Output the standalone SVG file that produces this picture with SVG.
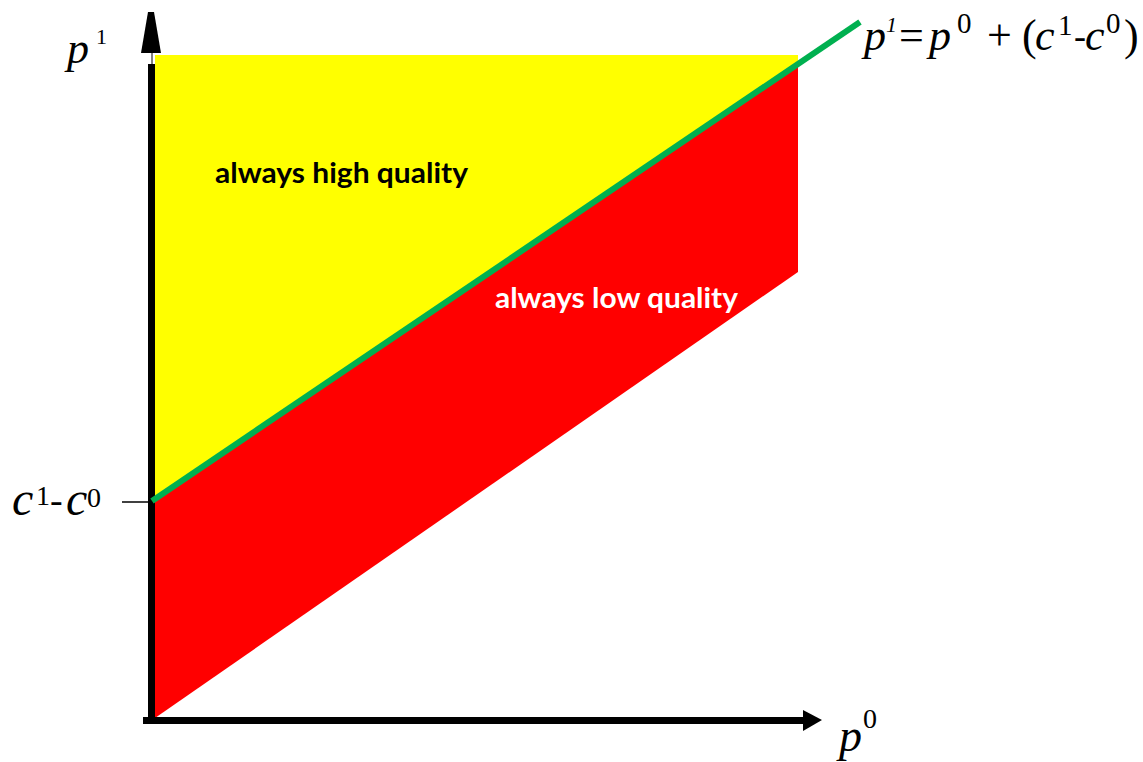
<svg xmlns="http://www.w3.org/2000/svg" width="1143" height="762" viewBox="0 0 1143 762">
<style>
.m{font-family:"Liberation Serif","Times New Roman",serif;fill:#000}
.i{font-style:italic}
.lbl{font-family:Lato,"Liberation Sans",sans-serif;font-weight:bold;font-size:28px}
</style>
<rect width="1143" height="762" fill="#fff"/>
<g id="regions">
<polygon id="high" points="155,55 798,55 798,64 155,500" fill="#ffff00"/>
<polygon id="low" points="155,500 798,64 798,272 155,718" fill="#ff0000"/>
</g>
<g id="connectors">
<line x1="152" y1="14" x2="152" y2="64" stroke="#000" stroke-width="1"/>
<line x1="151.5" y1="64" x2="151.5" y2="724" stroke="#000" stroke-width="7"/>
<polygon points="148,12 154,12 161,53 141,53" fill="#000"/>
<line x1="143" y1="720.5" x2="804" y2="720.5" stroke="#000" stroke-width="7"/>
<polygon points="822,720 803,710 803,731" fill="#000"/>
<line x1="122" y1="502" x2="150" y2="502" stroke="#000" stroke-width="1.5"/>
<line x1="152" y1="501" x2="860" y2="22" stroke="#00b050" stroke-width="6"/>
</g>
<g id="label-high"><text class="lbl" x="215" y="183" textLength="253" lengthAdjust="spacingAndGlyphs" fill="#000">always high quality</text></g>
<g id="label-low"><text class="lbl" x="495" y="308" textLength="243" lengthAdjust="spacingAndGlyphs" fill="#fff">always low quality</text></g>
<g id="axis-p1">
<text class="m i" x="67" y="63" font-size="44">p</text>
<text class="m" x="96" y="44" font-size="22">1</text>
</g>
<g id="axis-p0">
<text class="m i" x="839" y="751" font-size="46">p</text>
<text class="m" x="863" y="728" font-size="28">0</text>
</g>
<g id="intercept">
<text class="m i" x="12" y="515" font-size="48">c</text>
<text class="m" x="36" y="505" font-size="28">1</text>
<text class="m" x="50" y="513" font-size="38">-</text>
<text class="m i" x="66" y="515" font-size="48">c</text>
<text class="m" x="87" y="507" font-size="28">0</text>
</g>
<g id="equation">
<text class="m i" x="864" y="50" font-size="44">p</text>
<text class="m i" x="886" y="32" font-size="22">1</text>
<text class="m" x="899" y="50" font-size="44">=</text>
<text class="m i" x="929" y="50" font-size="44">p</text>
<text class="m" x="957" y="33" font-size="29">0</text>
<text class="m" x="987" y="50" font-size="44">+</text>
<text class="m" x="1022" y="50" font-size="44">(</text>
<text class="m i" x="1035" y="50" font-size="44">c</text>
<text class="m" x="1058" y="35" font-size="29">1</text>
<text class="m" x="1074" y="48" font-size="36">-</text>
<text class="m i" x="1085" y="50" font-size="44">c</text>
<text class="m" x="1106" y="33" font-size="29">0</text>
<text class="m" x="1124" y="50" font-size="44">)</text>
</g>
</svg>
